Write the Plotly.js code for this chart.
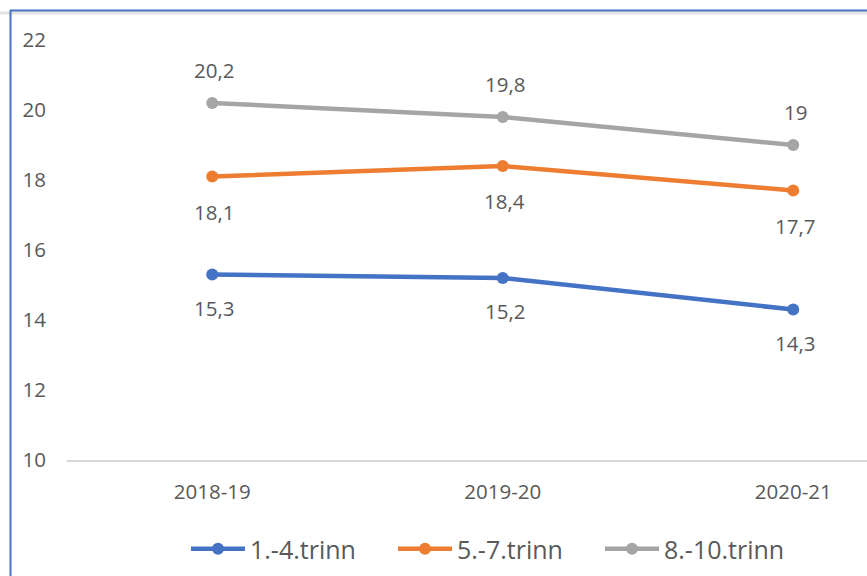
<!DOCTYPE html>
<html>
<head>
<meta charset="utf-8">
<script src="https://cdn.plot.ly/plotly-3.0.1.min.js"></script>
<style>html,body{margin:0;padding:0;background:#fff;}#chart{width:867px;height:576px;}</style>
</head>
<body>
<div id="chart"></div>
<script>
const categories = ['2018-19', '2019-20', '2020-21'];
const seriesNames = ['1.-4.trinn', '5.-7.trinn', '8.-10.trinn'];
const values_1_4 = [15.3, 15.2, 14.3];
const values_5_7 = [18.1, 18.4, 17.7];
const values_8_10 = [20.2, 19.8, 19];
const yTicks = [10, 12, 14, 16, 18, 20, 22];

const colors = ['#4472C4', '#ED7D31', '#A5A5A5'];
const labelShift = [-33, -35, 33];
const allValues = [values_1_4, values_5_7, values_8_10];

const W = 867, H = 576;
const mL = 67, mR = 0, mT = 40, mB = 116;
const font = "'Open Sans', 'Liberation Sans', sans-serif";
const txtColor = '#595959';

const traces = allValues.map((vals, i) => ({
  type: 'scatter', mode: 'lines+markers',
  x: categories, y: vals, name: seriesNames[i],
  line: {color: colors[i], width: 4.5},
  marker: {color: colors[i], size: 12},
  hoverinfo: 'skip'
}));

const annotations = [];
allValues.forEach((vals, i) => {
  vals.forEach((v, j) => {
    annotations.push({
      x: categories[j], y: v, xref: 'x', yref: 'y',
      text: String(v).replace('.', ','), showarrow: false,
      yshift: labelShift[i], xshift: 2,
      font: {family: font, size: 20.5, color: txtColor}
    });
  });
});

const pw = W - mL - mR, ph = H - mT - mB;
const px = p => (p - mL) / pw;
const py = p => (H - mB - p) / ph;

const shapes = [
  {type: 'line', xref: 'paper', yref: 'paper', x0: px(0), x1: px(W), y0: py(13), y1: py(13), line: {color: '#e3e3e3', width: 3}},
  {type: 'line', xref: 'paper', yref: 'paper', x0: px(10), x1: px(W), y0: py(10.5), y1: py(10.5), line: {color: '#4472C4', width: 2}},
  {type: 'line', xref: 'paper', yref: 'paper', x0: px(10.5), x1: px(10.5), y0: py(10), y1: py(H), line: {color: '#4472C4', width: 2}}
];

const layout = {
  width: W, height: H,
  margin: {l: mL, r: mR, t: mT, b: mB, pad: 0},
  paper_bgcolor: '#fff', plot_bgcolor: '#fff',
  separators: ', ',
  showlegend: true,
  font: {family: font, color: txtColor, size: 20},
  xaxis: {
    type: 'category', range: [-0.5, 2.254],
    showgrid: false, zeroline: false,
    showline: true, linecolor: '#d9d9d9', linewidth: 1.5,
    ticks: '', tickfont: {family: font, size: 20.5, color: txtColor},
    ticklabelstandoff: 13,
    fixedrange: true
  },
  yaxis: {
    range: [10, 22], tickvals: yTicks, ticktext: yTicks.map(String),
    showgrid: false, zeroline: false, showline: false, ticks: '',
    tickfont: {family: font, size: 20.5, color: txtColor},
    ticklabelstandoff: 20, automargin: false, fixedrange: true
  },
  legend: {
    orientation: 'h', x: px(186), xanchor: 'left', y: py(549), yanchor: 'middle',
    font: {family: font, size: 25, color: txtColor},
    entrywidth: 138, entrywidthmode: 'pixels', itemwidth: 54
  },
  annotations: annotations,
  shapes: shapes
};

Plotly.newPlot('chart', traces, layout, {displayModeBar: false, staticPlot: true});
</script>
</body>
</html>
